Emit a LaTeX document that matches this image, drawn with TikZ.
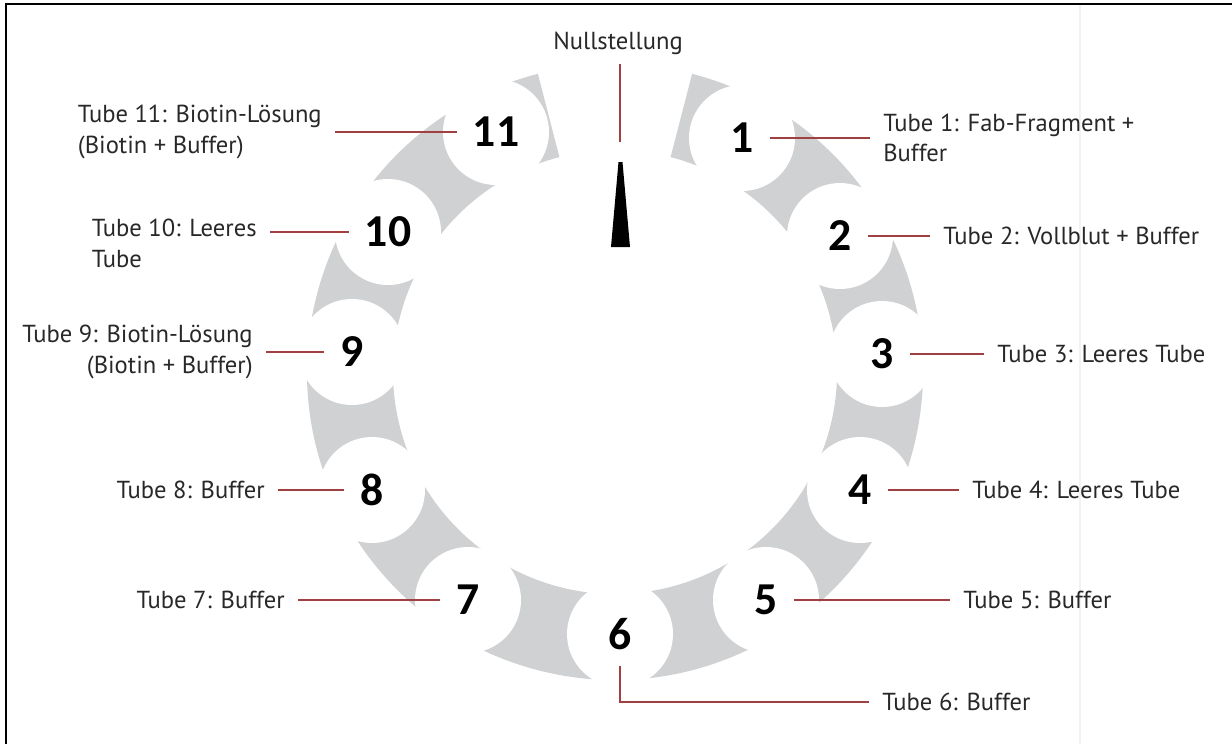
\documentclass[tikz,border=0pt]{standalone}
\usepackage{fontspec}
\setmainfont{PT Sans}
\newfontfamily\numfont{Carlito}
\usetikzlibrary{calc}
\definecolor{ringgray}{RGB}{208,209,211}
\definecolor{leadred}{RGB}{160,64,64}
\definecolor{txtgray}{RGB}{40,40,40}

\begin{document}
\begin{tikzpicture}[x=0.02cm, y=-0.02cm,
    hole/.style={fill=white},
    num/.style={font=\numfont\bfseries\fontsize{26}{30}\selectfont, inner sep=0.32cm},
    lab/.style={font=\fontsize{14}{17.5}\selectfont, text=txtgray, align=left, inner xsep=0.26cm, inner ysep=0pt},
    lead/.style={draw=leadred, line width=1.1pt}
]
\useasboundingbox (0,0) rectangle (1232,744);
\draw[gray!10, line width=0.6pt] (1080,4) -- (1080,744);
\draw[line width=1.4pt] (6,744) -- (6,4) -- (1232,4);

\coordinate (ctr) at (615,372);
\fill[ringgray] ($(ctr)+(284.5:308)$) arc[start angle=284.5, end angle=615.5, radius=308]
    -- ($(ctr)+(615.5:222)$) arc[start angle=615.5, end angle=284.5, radius=222] -- cycle;
\fill[hole] (742,138) circle[radius=53] (840,236) circle[radius=53] (882,354) circle[radius=53]
    (860,490) circle[radius=53] (766,600) circle[radius=53] (620,634) circle[radius=53]
    (468,600) circle[radius=53] (372,490) circle[radius=53] (352,352) circle[radius=53]
    (388,232) circle[radius=53] (496,132) circle[radius=53];

\node[num] (n1)  at (742,138) {1};
\node[num] (n2)  at (840,236) {2};
\node[num] (n3)  at (882,354) {3};
\node[num] (n4)  at (860,490) {4};
\node[num] (n5)  at (766,600) {5};
\node[num] (n6)  at (620,634) {6};
\node[num] (n7)  at (468,600) {7};
\node[num] (n8)  at (372,490) {8};
\node[num] (n9)  at (352,352) {9};
\node[num] (n10) at (388,232) {10};
\node[num] (n11) at (496,132) {11};

\node[lab, anchor=west] (l1) at (870,138) {Tube 1: Fab-Fragment +\\Buffer};
\node[lab, anchor=west] (l2) at (930,236) {Tube 2: Vollblut + Buffer};
\node[lab, anchor=west] (l3) at (984,354) {Tube 3: Leeres Tube};
\node[lab, anchor=west] (l4) at (959,490) {Tube 4: Leeres Tube};
\node[lab, anchor=west] (l5) at (950,600) {Tube 5: Buffer};
\node[lab, anchor=west] (l6) at (869,702) {Tube 6: Buffer};
\node[lab, anchor=east] (l7) at (298,600) {Tube 7: Buffer};
\node[lab, anchor=east] (l8) at (278,490) {Tube 8: Buffer};
\node[lab, anchor=east, align=right] (l9) at (266,352) {Tube 9: Biotin-Lösung\\(Biotin + Buffer)};
\node[lab, anchor=north east] (l10) at (270,219) {Tube 10: Leeres\\Tube};
\node[lab, anchor=east] (l11) at (335,132) {Tube 11: Biotin-Lösung\\(Biotin + Buffer)};
\node[lab, inner ysep=0.18cm] (null) at (618,43) {Nullstellung};
\coordinate (lineend) at (620,142);

\draw[lead] (n1) -- (l1);
\draw[lead] (n2) -- (l2);
\draw[lead] (n3) -- (l3);
\draw[lead] (n4) -- (l4);
\draw[lead] (n5) -- (l5);
\draw[lead] (n6.south) |- (l6);
\draw[lead] (n7) -- (l7);
\draw[lead] (n8) -- (l8);
\draw[lead] (n9) -- (l9);
\draw[lead] (n10) -- (n10 -| l10.east);
\draw[lead] (n11) -- (l11);
\draw[lead] (null.south -| lineend) -- (lineend);
\fill (611,247) -- (630,247) -- (622.5,162) -- (618.5,162) -- cycle;
\end{tikzpicture}
\end{document}
